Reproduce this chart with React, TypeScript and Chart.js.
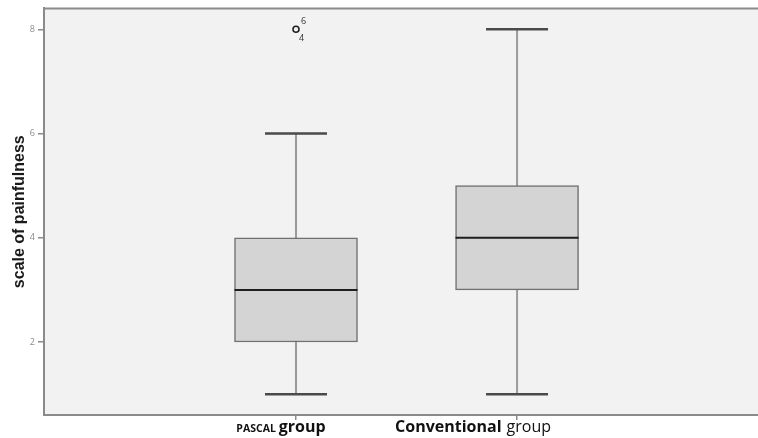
import React, { useEffect, useRef } from 'react';
import { Chart, registerables } from 'chart.js';

Chart.register(...registerables);

// ---- data ----
const groupPositions = [1, 2];
const groupNames = ['PASCAL group', 'Conventional group'];
const minimums = [1, 1];
const firstQuartiles = [2, 3];
const medians = [3, 4];
const thirdQuartiles = [4, 5];
const maximums = [6, 8];
const outlierGroups = [1];
const outlierValues = [8];
const outlierCaseLabels = [['6', '4']];
const yTickValues = [2, 4, 6, 8];
const yAxisTitle = 'scale of painfulness';

const FONT = '"Open Sans", "DejaVu Sans", sans-serif';

const spssPlugin = {
  id: 'spssDecor',
  beforeDraw(chart: any) {
    const { ctx, chartArea } = chart;
    ctx.save();
    ctx.fillStyle = '#f2f2f2';
    ctx.fillRect(chartArea.left, chartArea.top, chartArea.right - chartArea.left, chartArea.bottom - chartArea.top);
    ctx.restore();
  },
  afterDraw(chart: any) {
    const { ctx, chartArea } = chart;
    const xs = chart.scales.x;
    const ys = chart.scales.y;
    ctx.save();
    // top frame line
    ctx.strokeStyle = '#8a8a8a';
    ctx.lineWidth = 2;
    ctx.beginPath();
    ctx.moveTo(chartArea.left, chartArea.top);
    ctx.lineTo(chartArea.right, chartArea.top);
    ctx.stroke();

    // outlier case labels
    ctx.fillStyle = '#333';
    ctx.font = `9px ${FONT}`;
    ctx.textAlign = 'left';
    ctx.textBaseline = 'middle';
    outlierGroups.forEach((g, i) => {
      const px = xs.getPixelForValue(g);
      const py = ys.getPixelForValue(outlierValues[i]);
      const labs = outlierCaseLabels[i];
      if (labs[0]) ctx.fillText(labs[0], px + 5, py - 8);
      if (labs[1]) ctx.fillText(labs[1], px + 3, py + 9);
    });

    // x category labels with mixed styling (text from groupNames)
    const styleList = [
      [`bold 10.5px ${FONT}`, `bold 16px ${FONT}`],
      [`bold 16px ${FONT}`, `16px ${FONT}`],
    ];
    const gaps = [3, 5];
    const centerShift = [-15, -44];
    ctx.fillStyle = '#111';
    ctx.textBaseline = 'alphabetic';
    groupPositions.forEach((g, i) => {
      const words = groupNames[i].split(' ');
      const segs = [
        { t: words[0], f: styleList[i][0], gap: gaps[i] },
        { t: words[1], f: styleList[i][1], gap: 0 },
      ];
      let total = 0;
      segs.forEach((s) => {
        ctx.font = s.f;
        total += ctx.measureText(s.t).width + s.gap;
      });
      let x = xs.getPixelForValue(g) + centerShift[i] - total / 2;
      const y = chartArea.bottom + 17;
      segs.forEach((s) => {
        ctx.font = s.f;
        ctx.fillText(s.t, x, y);
        x += ctx.measureText(s.t).width + s.gap;
      });
    });
    ctx.restore();
  },
};

export default function App() {
  const ref = useRef<HTMLCanvasElement | null>(null);

  useEffect(() => {
    if (!ref.current) return;
    const whiskerSets = groupPositions.map((g, i) => ({
      type: 'line' as const,
      data: [
        { x: g, y: minimums[i] },
        { x: g, y: maximums[i] },
      ],
      borderColor: '#9a9a9a',
      borderWidth: 2,
      pointRadius: 0,
      order: 5,
    }));
    const chart = new Chart(ref.current, {
      type: 'bar',
      data: {
        datasets: [
          {
            type: 'bar',
            data: groupPositions.map((g, i) => ({ x: g, y: [firstQuartiles[i], thirdQuartiles[i]] })) as any,
            backgroundColor: '#d4d4d4',
            borderColor: '#707070',
            borderWidth: 1.5,
            borderSkipped: false,
            barThickness: 123,
            grouped: false,
            order: 3,
          } as any,
          ...whiskerSets,
          {
            type: 'scatter',
            data: [
              ...groupPositions.map((g, i) => ({ x: g, y: minimums[i] })),
              ...groupPositions.map((g, i) => ({ x: g, y: maximums[i] })),
            ],
            pointStyle: 'line',
            pointRadius: 31,
            borderColor: '#4a4a4a',
            borderWidth: 2.5,
            order: 1,
          } as any,
          {
            type: 'scatter',
            data: groupPositions.map((g, i) => ({ x: g, y: medians[i] })),
            pointStyle: 'line',
            pointRadius: 61.5,
            borderColor: '#1e1e1e',
            borderWidth: 2,
            order: 1,
          } as any,
          {
            type: 'scatter',
            data: outlierGroups.map((g, i) => ({ x: g, y: outlierValues[i] })),
            pointStyle: 'circle',
            pointRadius: 3,
            backgroundColor: 'rgba(0,0,0,0)',
            borderColor: '#222',
            borderWidth: 1.6,
            order: 0,
          } as any,
        ],
      },
      options: {
        responsive: false,
        animation: false,
        events: [],
        layout: { autoPadding: false, padding: { top: 8, right: 0, left: 0, bottom: 0 } },
        plugins: { legend: { display: false }, tooltip: { enabled: false } },
        scales: {
          x: {
            type: 'linear',
            offset: false,
            min: -0.14,
            max: 3.09,
            afterBuildTicks: (scale: any) => {
              scale.ticks = groupPositions.map((v) => ({ value: v }));
            },
            afterFit: (scale: any) => {
              scale.height = 23;
            },
            ticks: { display: true, callback: () => '', padding: 0 },
            grid: { offset: false, drawOnChartArea: false, drawTicks: true, tickLength: 5, color: '#8a8a8a', lineWidth: 1.5 },
            border: { display: true, color: '#8a8a8a', width: 2 },
          },
          y: {
            type: 'linear',
            min: 0.6,
            max: 8.4,
            afterBuildTicks: (scale: any) => {
              scale.ticks = yTickValues.map((v) => ({ value: v }));
            },
            afterFit: (scale: any) => {
              scale.width = 44;
            },
            ticks: { color: '#8c8c8c', font: { size: 9, family: FONT }, padding: 3 },
            grid: { drawOnChartArea: false, drawTicks: true, tickLength: 6, color: '#8a8a8a', lineWidth: 1.5 },
            border: { display: true, color: '#8a8a8a', width: 2 },
            title: {
              display: true,
              text: yAxisTitle,
              color: '#1a1a1a',
              font: { size: 16, weight: 'bold', family: 'Arial, "Liberation Sans", sans-serif' },
              padding: { top: 10, bottom: 0 },
            },
          },
        },
      },
      plugins: [spssPlugin],
    } as any);
    return () => chart.destroy();
  }, []);

  return (
    <div style={{ position: 'fixed', left: 0, top: 0, width: 758, height: 438, background: '#fff' }}>
      <canvas ref={ref} width={758} height={438} style={{ display: 'block' }} />
    </div>
  );
}
